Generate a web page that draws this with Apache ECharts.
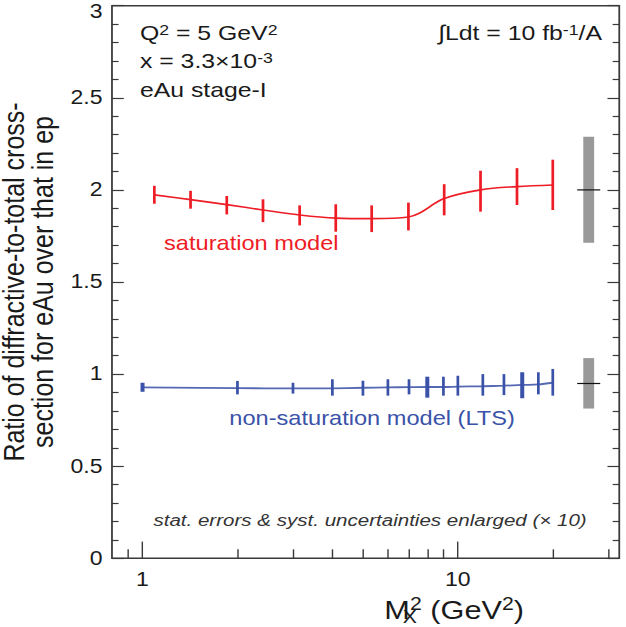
<!DOCTYPE html>
<html><head><meta charset="utf-8">
<script src="https://cdn.jsdelivr.net/npm/echarts@6/dist/echarts.min.js"></script>
<style>
html,body{margin:0;padding:0;background:#fff;overflow:hidden;}
#wrap{width:626px;height:627px;overflow:hidden;}
#chart{width:530px;height:627px;transform:scaleX(1.18113);transform-origin:0 0;}
</style></head><body>
<div id="wrap"><div id="chart"></div></div>
<script>
// ---- data ----
const redX    = [1.09, 1.42, 1.85, 2.41, 3.15, 4.10, 5.33, 6.97, 9.05, 11.8, 15.4, 20];
const redY    = [1.973, 1.947, 1.920, 1.891, 1.864, 1.847, 1.844, 1.853, 1.953, 2.000, 2.018, 2.027];
const redLow  = [1.925, 1.898, 1.867, 1.825, 1.807, 1.773, 1.771, 1.780, 1.862, 1.882, 1.918, 1.891];
const redHigh = [2.022, 1.995, 1.967, 1.949, 1.916, 1.922, 1.916, 1.931, 2.031, 2.104, 2.118, 2.164];

const blueX    = [1, 2, 3, 4, 5, 6, 7, 8, 9, 10, 12, 14, 16, 18, 20];
const blueY    = [0.928, 0.924, 0.922, 0.923, 0.926, 0.928, 0.929, 0.930, 0.930, 0.932, 0.934, 0.937, 0.941, 0.944, 0.953];
const blueLow  = [0.904, 0.890, 0.894, 0.883, 0.883, 0.883, 0.890, 0.872, 0.883, 0.883, 0.883, 0.886, 0.869, 0.890, 0.883];
const blueHigh = [0.953, 0.963, 0.953, 0.972, 0.964, 0.972, 0.972, 0.986, 0.986, 0.991, 1.000, 1.000, 1.010, 1.010, 1.028];

const systX    = [26, 26];
const systMid  = [2.000, 0.949];
const systLow  = [1.713, 0.813];
const systHigh = [2.289, 1.087];

const xMajorTicks = [1, 10];
const xMinorTicks = [0.9, 2, 3, 4, 5, 6, 7, 8, 9, 20, 30];
const xRange = [0.8, 32.5];
const yRange = [0, 3];
const yStep = 0.5;

// ---- styling ----
const FONT = 'Liberation Sans, Arial, Helvetica, sans-serif';
const RED = '#ee1c25', BLUE = '#3a52a8', BLUE_LINE = '#5468b4', AXIS = '#3a3a3a', TXT = '#1a1a1a';
const thickBlueAt = new Set([1, 8, 16]);

function errBars(xs, lo, hi) { return xs.map((x, i) => [x, lo[i], hi[i]]); }

function errRender(color) {
  return function (params, api) {
    const x = api.value(0);
    const p1 = api.coord([x, api.value(1)]);
    const p2 = api.coord([x, api.value(2)]);
    const w = (color === BLUE && thickBlueAt.has(x)) ? 3.4 : 2.3;
    return { type: 'line', shape: { x1: p1[0], y1: p1[1], x2: p2[0], y2: p2[1] },
             style: { stroke: color, lineWidth: w } };
  };
}

const chart = echarts.init(document.getElementById('chart'), null, { renderer: 'svg' });

const axisTickCommon = { inside: true, lineStyle: { color: AXIS, width: 1.2 } };
const supRich = { s: { fontSize: 15, verticalAlign: 'top', fontFamily: FONT, fill: TXT } };

chart.setOption({
  animation: false,
  backgroundColor: '#fff',
  grid: { left: 94.8, right: 5.7, top: 5.7, bottom: 68.7, show: true,
          borderColor: AXIS, borderWidth: 1.5, containLabel: false, outerBoundsMode: 'none' },
  xAxis: [
    { type: 'log', logBase: 10, min: xRange[0], max: xRange[1], position: 'bottom',
      axisLine: { show: false },
      axisTick: Object.assign({}, axisTickCommon, { length: 16.7, customValues: xMajorTicks }),
      axisLabel: { customValues: xMajorTicks, fontSize: 19.5, color: TXT, fontFamily: FONT, margin: 11 },
      splitLine: { show: false }, minorTick: { show: false }, minorSplitLine: { show: false },
      name: '{m|M}{sub|X}{sup|2}{m| (GeV}{sup|2}{m|)}',
      nameLocation: 'middle', nameGap: 29,
      nameTextStyle: { padding: [0, 0, 0, 150],
        rich: {
          m: { fontSize: 26, lineHeight: 31, fontFamily: FONT, color: TXT },
          sub: { fontSize: 18, verticalAlign: 'bottom', fontFamily: FONT, color: TXT, width: 0, align: 'left' },
          sup: { fontSize: 18, verticalAlign: 'top', fontFamily: FONT, color: TXT }
        } }
    },
    { type: 'log', logBase: 10, min: xRange[0], max: xRange[1], position: 'bottom',
      axisLine: { show: false },
      axisTick: Object.assign({}, axisTickCommon, { length: 9, customValues: xMinorTicks }),
      axisLabel: { show: false }, splitLine: { show: false } }
  ],
  yAxis: [
    { type: 'value', min: yRange[0], max: yRange[1], interval: yStep, position: 'left',
      axisLine: { show: false },
      axisTick: Object.assign({}, axisTickCommon, { length: 10 }),
      minorTick: { show: true, splitNumber: 5, length: 5.6, lineStyle: { color: AXIS, width: 1.2 } },
      axisLabel: { fontSize: 19.5, color: TXT, fontFamily: FONT, margin: 8,
        formatter: v => (v === yRange[1] ? '{top|' + v + '}' : String(v)),
        rich: { top: { fontSize: 19.5, fontFamily: FONT, color: TXT, padding: [12, 0, 0, 0] } } },
      splitLine: { show: false }, minorSplitLine: { show: false },
      name: 'Ratio of diffractive-to-total cross-\nsection for eAu over that in ep',
      nameLocation: 'middle', nameGap: 43,
      nameTextStyle: { fontSize: 25, lineHeight: 25, fontFamily: FONT, color: TXT }
    },
    { type: 'value', min: yRange[0], max: yRange[1], interval: yStep, position: 'right',
      axisLine: { show: false },
      axisTick: Object.assign({}, axisTickCommon, { length: 10 }),
      minorTick: { show: true, splitNumber: 5, length: 5.6, lineStyle: { color: AXIS, width: 1.2 } },
      axisLabel: { show: false }, splitLine: { show: false }, minorSplitLine: { show: false } }
  ],
  series: [
    { type: 'line', name: 'saturation model', xAxisIndex: 0, yAxisIndex: 0,
      data: redX.map((x, i) => [x, redY[i]]), smooth: 0.35, symbol: 'none',
      lineStyle: { color: RED, width: 1.6 }, z: 3 },
    { type: 'custom', xAxisIndex: 0, yAxisIndex: 0, data: errBars(redX, redLow, redHigh),
      encode: { x: 0, y: [1, 2] }, renderItem: errRender(RED), z: 4 },
    { type: 'line', name: 'non-saturation model (LTS)', xAxisIndex: 0, yAxisIndex: 0,
      data: blueX.map((x, i) => [x, blueY[i]]), smooth: 0.35, symbol: 'none',
      lineStyle: { color: BLUE_LINE, width: 1.8 }, z: 3 },
    { type: 'custom', xAxisIndex: 0, yAxisIndex: 0, data: errBars(blueX, blueLow, blueHigh),
      encode: { x: 0, y: [1, 2] }, renderItem: errRender(BLUE), z: 4 },
    { type: 'custom', xAxisIndex: 0, yAxisIndex: 0,
      data: systX.map((x, i) => [x, systLow[i], systHigh[i], systMid[i]]),
      encode: { x: 0, y: [1, 2] },
      renderItem: function (params, api) {
        const x = api.value(0);
        const lo = api.coord([x, api.value(1)]);
        const hi = api.coord([x, api.value(2)]);
        const mid = api.coord([x, api.value(3)]);
        const bw = 9.2, lw = 19.5;
        return { type: 'group', children: [
          { type: 'rect', shape: { x: lo[0] - bw / 2, y: hi[1], width: bw, height: lo[1] - hi[1] },
            style: { fill: '#999999' } },
          { type: 'line', shape: { x1: mid[0] - lw / 2, y1: mid[1], x2: mid[0] + lw / 2, y2: mid[1] },
            style: { stroke: '#111', lineWidth: 1.2 } }
        ] };
      }, z: 2 }
  ],
  graphic: [
    { type: 'text', x: 118.5, y: 32.5, style: { text: 'Q{s|2} = 5 GeV{s|2}', fill: TXT, fontSize: 21, fontFamily: FONT,
        align: 'left', verticalAlign: 'middle', rich: supRich } },
    { type: 'text', x: 118.5, y: 61, style: { text: 'x = 3.3×10{s|-3}', fill: TXT, fontSize: 21, fontFamily: FONT,
        align: 'left', verticalAlign: 'middle', rich: supRich } },
    { type: 'text', x: 118.5, y: 89.5, style: { text: 'eAu stage-I', fill: TXT, fontSize: 21, fontFamily: FONT,
        align: 'left', verticalAlign: 'middle' } },
    { type: 'text', x: 509.7, y: 33, style: { text: '∫Ldt = 10 fb{s|-1}/A', fill: TXT, fontSize: 21, fontFamily: FONT,
        align: 'right', verticalAlign: 'middle', rich: supRich } },
    { type: 'text', x: 138.9, y: 243.6, style: { text: 'saturation model', fill: RED, fontSize: 20, fontFamily: FONT,
        align: 'left', verticalAlign: 'middle' } },
    { type: 'text', x: 194.1, y: 418.4, style: { text: 'non-saturation model (LTS)', fill: BLUE, fontSize: 20, fontFamily: FONT,
        align: 'left', verticalAlign: 'middle' } },
    { type: 'text', x: 313.3, y: 520, style: { text: 'stat. errors & syst. uncertainties enlarged (× 10)', fill: '#333',
        fontSize: 17.4, fontStyle: 'italic', fontFamily: FONT, align: 'center', verticalAlign: 'middle' } }
  ]
});
</script>
</body></html>
